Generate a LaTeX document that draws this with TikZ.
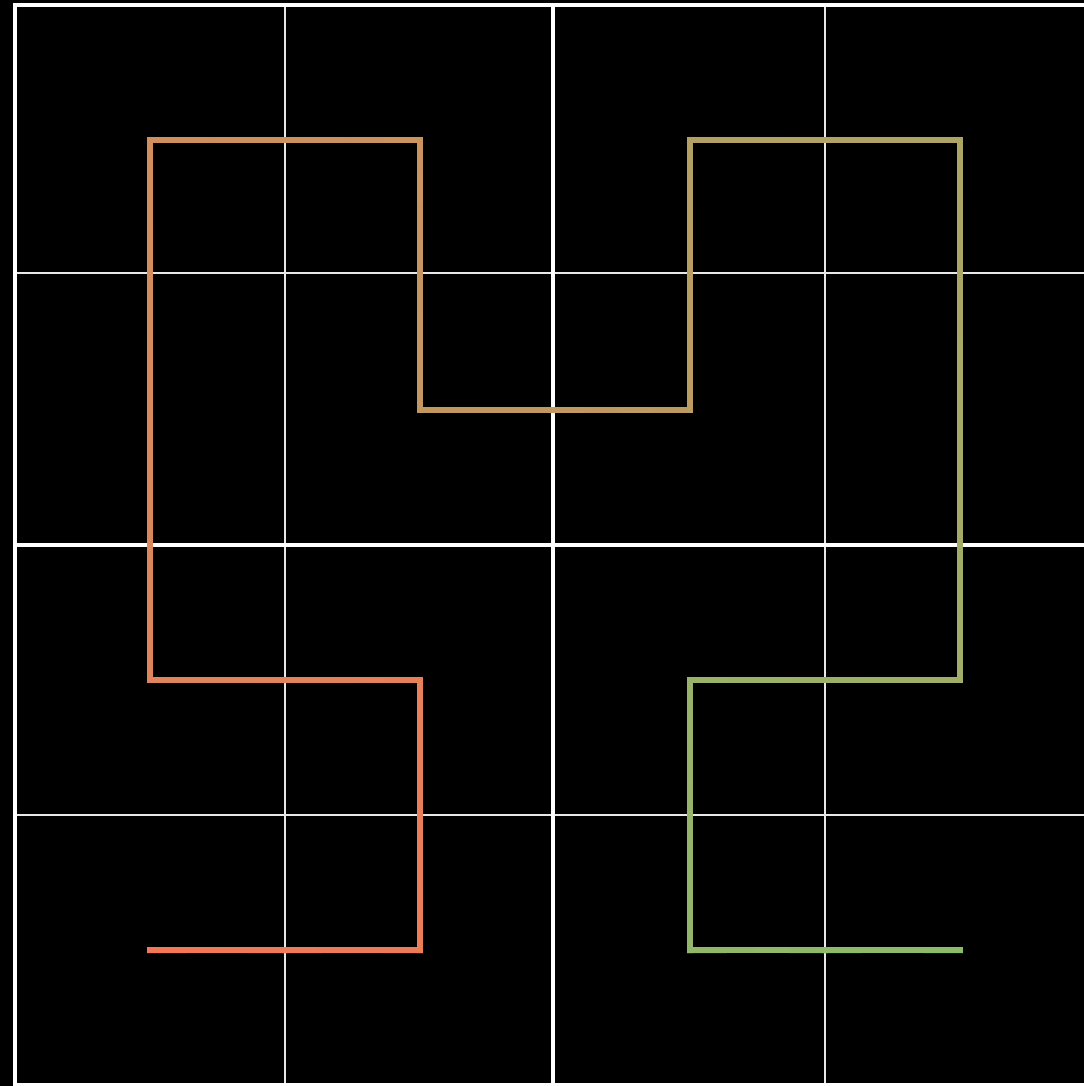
\documentclass[tikz,border=0pt]{standalone}
\usetikzlibrary{calc}
\definecolor{hilstart}{RGB}{242,120,88}
\definecolor{hilend}{RGB}{140,187,108}
\definecolor{gridink}{RGB}{232,232,232}

\begin{document}
\begin{tikzpicture}[
  x=0.02cm, y=-0.02cm,
  finegrid/.style = {draw=gridink, line width=1.1pt},
  boldgrid/.style = {draw=white, line width=2.7pt},
  curve/.style    = {line width=3.4pt, line cap=rect}
]

\fill[black] (0,0) rectangle (1084,1086);
\useasboundingbox (0,0) rectangle (1084,1086);

% grid
\begin{scope}
  \clip (0,0) rectangle (1084,1086);
  \foreach \gx in {285,825} \draw[finegrid] (\gx,5) -- (\gx,1085);
  \foreach \gy in {273,815} \draw[finegrid] (15,\gy) -- (1095,\gy);
  \draw[boldgrid] (553,5) -- (553,1085);
  \draw[boldgrid] (15,545) -- (1095,545);
  \draw[boldgrid] (15,5) rectangle (1095,1085);
\end{scope}

% curve vertices
\coordinate (p0)  at (150,950);
\coordinate (p1)  at (420,950);
\coordinate (p2)  at (420,680);
\coordinate (p3)  at (150,680);
\coordinate (p4)  at (150,140);
\coordinate (p5)  at (420,140);
\coordinate (p6)  at (420,410);
\coordinate (p7)  at (690,410);
\coordinate (p8)  at (690,140);
\coordinate (p9)  at (960,140);
\coordinate (p10) at (960,680);
\coordinate (p11) at (690,680);
\coordinate (p12) at (690,950);
\coordinate (p13) at (960,950);

% curve, shaded along its length
\foreach \a/\b/\ta/\tb in {p0/p1/0/1, p1/p2/1/2, p2/p3/2/3, p3/p4/3/5,
    p4/p5/5/6, p5/p6/6/7, p6/p7/7/8, p7/p8/8/9, p8/p9/9/10,
    p9/p10/10/12, p10/p11/12/13, p11/p12/13/14, p12/p13/14/15}{
  \foreach \k in {0,...,7}{
    \pgfmathsetmacro\fa{\k/8}
    \pgfmathsetmacro\fb{(\k+1)/8}
    \pgfmathsetmacro\pct{100-(\ta+(\tb-\ta)*(\k+0.5)/8)/15*100}
    \draw[curve, color=hilstart!\pct!hilend] ($(\a)!\fa!(\b)$) -- ($(\a)!\fb!(\b)$);
  }
}

\end{tikzpicture}
\end{document}
